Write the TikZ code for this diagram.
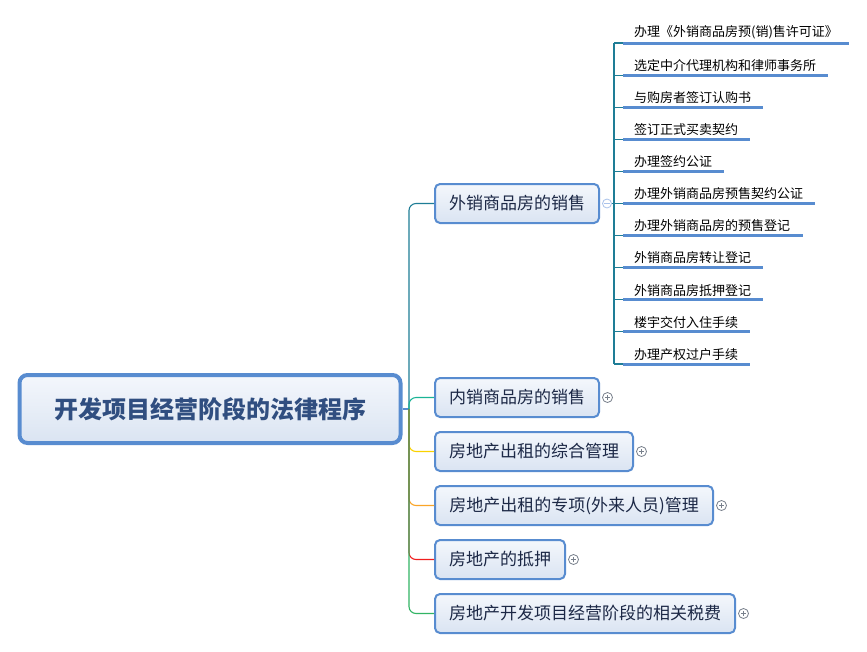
\documentclass[tikz,border=0pt]{standalone}
\usepackage{fontspec}
\setmainfont{Noto Sans CJK SC}
\definecolor{bord}{RGB}{88,140,208}
\definecolor{ftop}{RGB}{244,247,252}
\definecolor{fbot}{RGB}{218,228,242}
\definecolor{roottxt}{RGB}{48,78,128}
\definecolor{boxtxt}{RGB}{28,40,70}
\definecolor{cA}{RGB}{30,125,150}
\definecolor{cB}{RGB}{26,180,150}
\definecolor{cC}{RGB}{250,210,0}
\definecolor{cD}{RGB}{250,165,40}
\definecolor{cE}{RGB}{240,30,30}
\definecolor{cF}{RGB}{50,180,100}
\definecolor{plusc}{RGB}{120,128,140}
\definecolor{minusc}{RGB}{170,195,235}
\tikzset{
  rootbox/.style={draw=bord, line width=4pt, rounded corners=8pt, top color=ftop, bottom color=fbot,
    font=\fontsize{24}{28}\selectfont\bfseries, text=roottxt, inner sep=0pt},
  mainbox/.style={draw=bord, line width=2pt, rounded corners=5pt, top color=ftop, bottom color=fbot,
    font=\fontsize{17}{20}\selectfont, text=boxtxt, inner sep=0pt, minimum height=39pt},
  conn/.style={line width=1.1pt, rounded corners=7pt},
  subitem/.style={anchor=south west, inner xsep=11pt, inner ysep=3.5pt, align=left,
    font=\fontsize{13}{15}\selectfont, text=black},
  ul/.style={draw=bord, line width=3pt},
  plusbtn/.style={circle, draw=plusc, line width=0.8pt, minimum size=10pt, inner sep=0pt, fill=white,
    path picture={\draw[plusc, line width=0.8pt] ([xshift=-2.6pt]path picture bounding box.center) -- ([xshift=2.6pt]path picture bounding box.center)
      ([yshift=-2.6pt]path picture bounding box.center) -- ([yshift=2.6pt]path picture bounding box.center);}},
  minusbtn/.style={circle, draw=minusc, line width=0.8pt, minimum size=9pt, inner sep=0pt, fill=white,
    path picture={\draw[minusc, line width=0.8pt] ([xshift=-2.6pt]path picture bounding box.center) -- ([xshift=2.6pt]path picture bounding box.center);}}
}
\begin{document}
\begin{tikzpicture}[x=1pt,y=-1pt]
\useasboundingbox (0,0) rectangle (867,651);
\fill[white] (0,0) rectangle (867,651);

% root
\node[rootbox, minimum width=381pt, minimum height=68pt] (root) at (210,409) {开发项目经营阶段的法律程序};
\coordinate (hub) at (409,409);

% main boxes
\node[mainbox, minimum width=164pt] (b1) at (517,203.5) {外销商品房的销售};
\node[mainbox, minimum width=164pt] (b2) at (517,397.5) {内销商品房的销售};
\node[mainbox, minimum width=198pt] (b3) at (534,451.5) {房地产出租的综合管理};
\node[mainbox, minimum width=278pt] (b4) at (574,505.5) {房地产出租的专项(外来人员)管理};
\node[mainbox, minimum width=130pt] (b5) at (500,559.5) {房地产的抵押};
\node[mainbox, minimum width=300pt] (b6) at (585,613.5) {房地产开发项目经营阶段的相关税费};

% connectors
\draw[line width=1.1pt, bord] (root.east) -- (hub);
\draw[conn, cA] (hub) |- (b1.west);
\draw[conn, cB] (hub) |- (b2.west);
\draw[conn, cC] (hub) |- (b3.west);
\draw[conn, cD] (hub) |- (b4.west);
\draw[conn, cE] (hub) |- (b5.west);
\draw[conn, cF] (hub) |- (b6.west);

% buttons
\node[plusbtn] (p2) at ([xshift=7.5pt]b2.east) {};
\node[plusbtn] (p3) at ([xshift=7.5pt]b3.east) {};
\node[plusbtn] (p4) at ([xshift=7.5pt]b4.east) {};
\node[plusbtn] (p5) at ([xshift=7.5pt]b5.east) {};
\node[plusbtn] (p6) at ([xshift=7.5pt]b6.east) {};

% sub items
\foreach \i/\y/\w/\t in {
  1/43/226/{办理《外销商品房预(销)售许可证》},
  2/75.1/205/{选定中介代理机构和律师事务所},
  3/107.2/140/{与购房者签订认购书},
  4/139.3/127/{签订正式买卖契约},
  5/171.4/101/{办理签约公证},
  6/203.5/192/{办理外销商品房预售契约公证},
  7/235.6/180/{办理外销商品房的预售登记},
  8/267.7/140/{外销商品房转让登记},
  9/299.8/140/{外销商品房抵押登记},
  10/331.9/127/{楼宇交付入住手续},
  11/364/127/{办理产权过户手续}} {
  \node[subitem, minimum width=\w pt, text width=\w pt - 22pt] (s\i) at (623,\y) {\t};
  \draw[ul] (s\i.south west) -- (s\i.south east);
  \coordinate (sp\i) at (614,\y);
  \draw[line width=1.1pt, cA] (sp\i) -- (s\i.south west);
}
\draw[line width=1.1pt, cA] (sp1) -- (sp11);
\node[minusbtn] (m1) at ([xshift=7pt]b1.east) {};
\draw[line width=1.1pt, cA] (m1.east) -- (sp6);
\end{tikzpicture}
\end{document}
